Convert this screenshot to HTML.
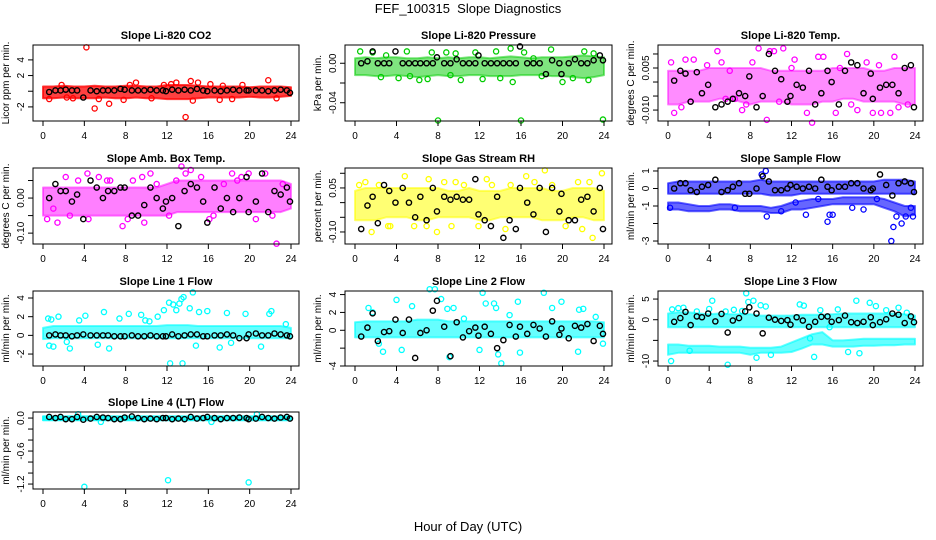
<!DOCTYPE html>
<html><head><meta charset="utf-8"><style>
html,body{margin:0;padding:0;background:#fff;}
svg{display:block;font-family:"Liberation Sans",sans-serif;}
</style></head><body>
<svg id="chart" width="936" height="540" viewBox="0 0 936 540" xmlns="http://www.w3.org/2000/svg">
<text x="468" y="13" text-anchor="middle" font-size="13" xml:space="preserve">FEF_100315  Slope Diagnostics</text>
<text x="468" y="531" text-anchor="middle" font-size="13">Hour of Day (UTC)</text>
</svg>
<script>
const xTicks = [0,4,8,12,16,20,24];
const bandHours = [0,1,2,3,4,5,6,7,8,9,10,11,12,13,14,15,16,17,18,19,20,21,22,23,24];
const blackHours = [0.6,1.2,1.7,2.2,2.8,3.3,3.9,4.6,5.2,5.8,6.3,6.9,7.5,7.9,8.6,9.2,9.8,10.4,11.0,11.6,11.9,12.5,13.1,13.7,14.3,14.9,15.5,15.9,16.6,17.2,17.8,18.4,19.0,19.7,19.9,20.6,21.2,21.8,22.4,23.0,23.6,23.9];

const co2Lo = [-0.9,-0.9,-0.8,-0.9,-0.9,-0.9,-0.8,-0.9,-0.9,-0.8,-0.9,-0.9,-1.0,-1.0,-1.0,-0.9,-0.8,-0.8,-0.8,-0.8,-0.7,-0.8,-0.8,-0.7,-0.6];
const co2Hi = [0.6,0.6,0.7,0.6,0.6,0.7,0.6,0.6,0.7,0.7,0.6,0.6,0.8,0.8,0.8,0.7,0.6,0.6,0.6,0.6,0.5,0.6,0.6,0.6,0.5];
const co2X = [4.2,13.8,5.0,6.4,0.6,2.9,9.0,12.9,14.3,14.5,15.0,17.4,18.3,21.8,1.8,17.1,7.8,5.4,11.7,12.4,22.6,19.3,2.3,8.4,10.5,16.2];
const co2Y = [5.6,-3.3,-2.2,-1.6,-1.0,-0.9,1.1,1.1,1.3,-1.2,1.1,0.7,-1.0,1.4,0.8,-1.1,-1.1,-1.0,0.8,0.9,-0.9,0.8,-0.8,0.8,-0.9,0.9];
const co2Black = [-0.1,0.1,0.1,0.2,0.1,0.1,-0.8,0.1,0.0,0.1,0.1,0.1,0.3,0.2,0.1,0.1,0.1,0.2,0.1,0.1,0.0,0.2,0.1,0.2,0.1,0.3,0.1,0.0,0.1,0.0,0.1,0.2,0.1,0.1,0.1,0.1,0.1,0.0,0.1,0.2,0.1,-0.2];

const prLo = [-0.012,-0.012,-0.013,-0.013,-0.012,-0.013,-0.014,-0.013,-0.012,-0.013,-0.013,-0.012,-0.012,-0.013,-0.013,-0.013,-0.012,-0.012,-0.012,-0.013,-0.013,-0.014,-0.015,-0.014,-0.012];
const prHi = [0.005,0.006,0.005,0.006,0.006,0.005,0.005,0.006,0.005,0.006,0.005,0.006,0.006,0.005,0.006,0.007,0.006,0.005,0.006,0.006,0.006,0.007,0.008,0.007,0.006];
const prX = [8.0,16.0,23.9,0.5,1.7,3.0,5.0,5.3,6.2,7.4,8.8,9.7,10.2,11.6,13.6,15.0,15.2,16.3,17.2,18.9,20.0,21.0,22.1,22.5,23.0,2.5,4.2,9.2,12.3,14.0,18.0,7.0];
const prY = [-0.058,-0.058,-0.057,0.012,0.011,0.008,0.012,-0.013,-0.017,0.011,0.011,0.010,-0.017,0.011,0.012,0.015,-0.019,0.011,0.005,0.014,-0.019,-0.015,0.012,-0.017,0.010,-0.014,-0.015,-0.012,-0.016,-0.015,-0.013,-0.016];
const prBlack = [0.0,0.002,0.012,0.0,0.0,0.0,0.012,0.0,0.0,0.0,0.0,0.0,0.0,0.006,0.0,0.0,0.004,0.0,0.0,0.0,0.008,0.0,0.0,0.0,0.0,0.0,0.0,0.017,0.0,0.0,0.0,-0.011,0.003,0.0,-0.011,0.0,0.004,0.0,0.0,0.003,0.008,0.003];

const tLo = [-0.008,-0.008,-0.007,-0.007,-0.007,-0.006,-0.006,-0.007,-0.008,-0.007,-0.007,-0.007,-0.008,-0.008,-0.008,-0.007,-0.007,-0.006,-0.006,-0.007,-0.007,-0.007,-0.007,-0.008,-0.008];
const tHi = [0.004,0.004,0.004,0.004,0.005,0.005,0.005,0.005,0.005,0.005,0.004,0.004,0.004,0.004,0.004,0.004,0.005,0.005,0.005,0.005,0.004,0.004,0.005,0.005,0.005];
const tX = [0.3,0.6,1.3,1.7,2.5,3.8,4.8,5.2,6.5,7.2,7.6,8.2,8.8,9.6,9.9,10.3,11.2,12.3,13.5,14.0,14.6,15.1,16.3,17.4,17.8,18.4,19.3,19.9,20.7,21.6,22.0,22.4,23.3,2.2,6.0,12.0,16.7,20.5,10.8,5.6];
const tY = [0.007,-0.011,-0.009,0.008,0.008,0.006,0.011,0.007,-0.006,-0.010,-0.008,0.007,0.012,-0.0135,0.011,0.011,0.012,0.008,-0.011,-0.0145,0.009,0.009,-0.011,0.010,-0.008,-0.010,0.007,-0.011,-0.011,-0.011,0.009,-0.009,-0.008,-0.007,0.004,0.005,0.005,0.006,-0.007,-0.006];
const tBlack = [0.0005,0.004,0.003,-0.007,0.0035,-0.004,-0.001,-0.009,-0.008,-0.007,-0.006,-0.004,-0.005,0.002,-0.009,-0.005,0.010,0.004,0.001,-0.007,-0.005,-0.001,-0.002,0.004,-0.008,-0.004,0.004,0.0,-0.008,0.004,0.007,0.006,-0.004,0.003,-0.006,-0.002,-0.001,-0.001,-0.004,0.005,0.006,-0.009];

const abLo = [-0.05,-0.05,-0.05,-0.05,-0.05,-0.05,-0.05,-0.05,-0.05,-0.05,-0.05,-0.05,-0.05,-0.04,-0.04,-0.04,-0.04,-0.04,-0.04,-0.04,-0.04,-0.04,-0.04,-0.04,-0.03];
const abHi = [0.03,0.03,0.03,0.03,0.03,0.03,0.03,0.03,0.03,0.03,0.03,0.03,0.04,0.05,0.05,0.05,0.05,0.05,0.05,0.05,0.05,0.05,0.05,0.05,0.04];
const abX = [0.4,1.0,1.4,2.2,3.4,4.3,5.4,6.2,7.7,8.2,8.7,9.6,10.4,11.0,12.2,12.9,13.4,13.8,14.3,15.3,16.1,16.5,17.5,18.3,19.2,19.9,20.6,21.5,22.2,22.6,23.2,4.4,9.8,18.8,2.6,6.5];
const abY = [-0.06,-0.03,-0.07,0.06,0.05,0.07,0.06,0.05,-0.08,-0.06,0.05,0.06,0.07,0.04,-0.05,0.05,0.09,0.07,0.08,0.06,-0.06,-0.05,0.04,0.07,0.06,0.07,-0.06,0.07,-0.05,-0.13,0.04,-0.06,-0.07,0.05,-0.05,0.05];
const abBlack = [0.0,0.04,0.02,0.02,-0.01,0.01,-0.06,0.05,0.03,0.0,0.02,0.02,0.03,0.03,-0.05,-0.05,-0.02,0.03,0.0,-0.03,-0.01,0.0,-0.08,0.02,0.04,0.03,-0.01,-0.07,0.03,-0.03,0.0,-0.04,0.0,0.06,-0.04,-0.01,0.07,-0.04,0.02,0.01,0.03,-0.01];

const rhLo = [-0.06,-0.06,-0.06,-0.05,-0.05,-0.05,-0.06,-0.06,-0.05,-0.05,-0.05,-0.05,-0.06,-0.06,-0.05,-0.05,-0.05,-0.05,-0.06,-0.06,-0.06,-0.05,-0.05,-0.06,-0.06];
const rhHi = [0.04,0.05,0.05,0.05,0.05,0.05,0.05,0.05,0.05,0.04,0.04,0.05,0.04,0.04,0.04,0.05,0.05,0.05,0.05,0.04,0.04,0.05,0.05,0.05,0.04];
const rhX = [0.4,1.0,1.6,2.3,3.4,4.8,5.7,7.1,7.9,8.6,9.7,10.5,11.9,12.7,13.2,14.5,15.0,16.5,17.3,18.3,19.0,20.3,21.5,21.9,22.6,22.9,23.8,3.2,6.9,9.3];
const rhY = [0.06,0.07,-0.10,0.06,-0.08,0.09,-0.08,0.08,-0.10,0.07,0.07,0.06,-0.08,0.08,0.06,-0.09,0.06,0.09,0.07,0.11,0.06,-0.08,0.07,-0.09,0.07,-0.12,0.10,-0.08,-0.08,-0.08];
const rhBlack = [-0.09,-0.01,0.02,-0.07,0.06,0.04,0.0,0.05,0.00,-0.05,0.02,-0.06,0.05,-0.03,0.02,0.01,0.02,0.01,0.01,0.08,-0.04,-0.06,-0.08,0.02,-0.12,-0.06,-0.09,0.05,0.00,-0.04,0.05,-0.10,0.05,-0.03,0.03,-0.06,-0.06,0.01,0.02,-0.03,0.05,-0.09];

const sfLoA = [-0.3,-0.3,-0.3,-0.3,-0.3,-0.3,-0.3,-0.3,-0.3,-0.3,-0.4,-0.4,-0.4,-0.3,-0.3,-0.3,-0.3,-0.3,-0.3,-0.3,-0.3,-0.3,-0.3,-0.3,-0.3];
const sfHiA = [0.3,0.4,0.4,0.4,0.4,0.4,0.4,0.4,0.4,0.5,0.4,0.4,0.4,0.4,0.4,0.4,0.4,0.4,0.4,0.4,0.4,0.5,0.5,0.5,0.4];
const sfLoB = [-1.2,-1.2,-1.3,-1.3,-1.3,-1.2,-1.2,-1.3,-1.3,-1.3,-1.4,-1.4,-1.2,-1.2,-1.1,-1.0,-0.9,-0.9,-0.9,-0.9,-0.9,-1.1,-1.3,-1.6,-1.5];
const sfHiB = [-0.8,-0.8,-0.9,-1.0,-1.0,-0.9,-0.9,-1.0,-1.0,-1.0,-1.1,-1.0,-0.8,-0.7,-0.6,-0.6,-0.6,-0.5,-0.5,-0.5,-0.5,-0.6,-0.8,-1.0,-1.0];
const sfX = [9.1,9.5,9.6,13.4,15.5,15.7,16.0,17.9,19.0,21.7,21.9,22.2,22.7,23.1,23.6,23.8,0.2,6.5,11.0,14.6,20.3,12.4];
const sfY = [0.8,1.0,-1.6,-1.5,-1.9,-1.5,-1.5,-1.1,-1.2,-3.0,-2.2,-1.6,-2.0,-1.6,-1.1,-1.6,-1.1,-1.1,-1.3,-0.6,-0.6,-0.8];
const sfBlack = [0.0,0.3,0.3,-0.1,-0.2,0.1,0.2,0.5,-0.2,-0.1,0.1,0.3,-0.3,-0.3,-0.0,0.7,0.4,-0.1,-0.1,0.0,0.2,0.1,0.0,0.1,0.0,0.5,0.1,-0.1,0.1,0.1,0.3,0.3,0.0,-0.1,0.0,0.8,0.2,-0.4,0.3,0.4,0.3,-0.2];

const l1Lo = [-0.4,-0.3,-0.3,-0.3,-0.3,-0.3,-0.3,-0.3,-0.3,-0.3,-0.3,-0.3,-0.3,-0.3,-0.3,-0.3,-0.3,-0.3,-0.3,-0.3,-0.3,-0.3,-0.3,-0.3,-0.3];
const l1Hi = [0.8,1.0,1.0,1.0,1.0,1.0,1.0,1.0,1.0,1.0,1.0,1.0,1.1,1.1,1.1,1.0,1.0,1.0,1.0,1.0,1.0,1.0,1.0,1.0,0.8];
const l1X = [0.5,0.6,1.0,1.5,2.6,3.5,4.1,5.9,6.4,7.4,8.3,9.5,10.3,11.1,11.7,12.2,12.3,12.6,12.9,13.2,13.4,13.5,13.6,14.2,14.5,14.8,15.1,15.9,17.8,18.2,19.6,21.1,21.9,22.1,23.5,0.8,2.3,5.3,9.9,17.1];
const l1Y = [1.8,-1.1,-1.2,2.0,-1.4,1.6,2.1,2.5,-1.4,1.8,2.3,2.2,1.5,2.0,2.7,3.5,-3.0,3.3,2.7,3.4,3.9,-3.0,4.1,2.9,4.6,-1.1,2.5,2.6,2.4,-0.8,2.3,-1.2,2.3,2.6,1.2,1.7,-0.7,-1.0,1.6,-1.3];
const l1Black = [0.0,0.1,0.0,0.0,-0.1,0.0,0.1,0.0,0.0,0.0,0.0,-0.1,-0.1,-0.1,0.0,-0.1,-0.1,0.0,-0.1,-0.1,-0.1,0.1,-0.1,0.0,0.1,0.1,-0.1,-0.1,0.0,0.0,0.1,0.0,-0.3,-0.3,0.1,0.2,0.0,0.0,0.2,0.1,0.0,-0.1];

const l2Lo = [-0.8,-0.8,-0.8,-0.8,-0.8,-0.8,-0.8,-0.8,-0.8,-0.8,-0.8,-0.8,-0.8,-0.8,-0.8,-0.8,-0.8,-0.8,-0.8,-0.8,-0.8,-0.8,-0.8,-0.8,-0.8];
const l2Hi = [0.9,1.0,1.0,1.0,1.0,1.0,1.2,1.2,1.2,1.0,1.0,1.0,1.0,1.0,1.0,1.0,1.0,1.0,1.0,1.0,1.0,1.0,1.0,1.0,0.9];
const l2X = [1.3,1.7,2.3,2.7,4.0,4.5,5.5,7.2,7.7,8.3,8.9,9.1,9.5,12.0,12.3,12.6,13.4,13.6,13.8,14.1,15.7,15.9,18.2,19.0,19.9,21.6,21.5,22.0,23.2,23.9,10.5,14.9];
const l2Y = [2.5,2.0,-1.5,-2.4,3.4,-2.2,2.7,4.6,4.6,3.5,2.4,-3.0,2.5,-2.2,4.2,3.0,3.0,2.5,-2.7,-3.7,3.2,-2.5,4.2,2.5,3.2,2.3,-2.4,2.4,1.5,-1.5,1.3,1.7];
const l2Black = [-0.7,0.3,1.9,-1.2,-0.2,-0.1,1.2,-0.3,1.2,-3.1,-0.3,0.0,2.2,3.3,0.4,-2.9,0.9,-0.8,-0.1,0.3,-0.6,0.4,-0.4,-2.0,-1.1,0.6,-0.7,0.4,-0.4,0.6,0.2,-0.7,1.0,-0.5,0.2,-0.9,0.5,0.3,0.7,-1.2,0.5,-0.4];

const l3LoA = [-1.8,-1.8,-1.8,-1.8,-1.8,-1.8,-1.8,-1.8,-1.8,-1.8,-1.8,-1.8,-1.8,-1.8,-1.8,-1.8,-1.8,-1.8,-1.8,-1.8,-1.8,-1.8,-1.8,-1.8,-1.8];
const l3HiA = [1.5,1.8,1.8,1.5,1.3,1.5,1.3,1.3,1.3,1.0,1.0,1.0,1.0,1.2,1.2,1.2,1.3,1.5,1.5,1.5,1.5,1.5,1.5,1.3,1.0];
const l3LoB = [-8.5,-8.0,-8.0,-8.0,-8.0,-8.0,-8.0,-8.0,-8.5,-8.0,-8.0,-8.0,-7.8,-7.0,-6.0,-6.0,-6.5,-6.5,-6.5,-6.3,-6.3,-6.2,-6.2,-6.0,-6.0];
const l3HiB = [-6.0,-6.0,-6.3,-6.3,-6.3,-6.5,-6.5,-6.5,-6.8,-6.8,-6.8,-6.5,-5.5,-4.5,-3.5,-3.0,-5.0,-5.0,-4.8,-4.6,-4.6,-4.6,-4.6,-4.6,-4.6];
const l3X = [0.3,1.0,1.5,2.8,4.0,4.3,5.6,5.8,6.4,7.2,7.6,7.8,8.3,8.6,9.0,9.5,12.8,13.2,14.2,14.8,15.7,16.5,17.5,18.3,18.6,19.6,20.2,21.2,22.4,23.2,0.4,2.1,10.0,13.8];
const l3Y = [-10.0,2.8,2.9,2.0,2.6,4.6,2.0,-10.9,2.4,2.1,6.4,4.3,4.6,-9.2,3.5,3.2,3.7,3.4,-9.0,2.3,-1.8,2.5,-7.8,4.6,-8.1,4.1,3.3,2.3,2.9,1.7,2.5,-7.5,-8.5,-4.5];
const l3Black = [-0.5,0.4,1.9,-1.3,0.8,0.6,1.5,-0.4,1.4,-3.1,-0.2,0.4,2.0,3.0,1.5,-3.3,0.5,0.0,-0.3,-0.1,-1.2,0.6,-0.2,-1.7,-0.5,0.7,0.8,-0.5,-0.1,1.0,-0.6,-0.8,-0.5,0.6,-1.3,-0.6,0.1,1.5,1.2,-0.8,0.8,-0.6];

const l4Lo = [-0.04,-0.04,-0.04,-0.04,-0.04,-0.04,-0.04,-0.04,-0.04,-0.04,-0.04,-0.04,-0.04,-0.04,-0.04,-0.04,-0.04,-0.04,-0.04,-0.04,-0.04,-0.04,-0.04,-0.04,-0.04];
const l4Hi = [0.03,0.03,0.03,0.03,0.03,0.03,0.03,0.03,0.03,0.03,0.03,0.03,0.03,0.03,0.03,0.03,0.03,0.03,0.03,0.03,0.03,0.03,0.03,0.03,0.03];
const l4X = [4.0,12.1,19.9,3.4,20.7,5.6,16.3];
const l4Y = [-1.25,-1.13,-1.17,0.07,0.07,-0.07,-0.07];
const l4Black = [0.02,0.0,0.02,-0.02,-0.02,0.02,-0.03,-0.01,0.02,0.01,0.0,-0.02,-0.02,0.01,0.03,0.0,-0.02,-0.01,-0.02,0.0,0.0,-0.02,-0.01,-0.02,0.02,-0.01,0.0,0.02,0.0,-0.02,0.0,0.0,0.01,0.0,-0.02,-0.01,0.02,0.0,-0.01,0.01,0.02,-0.01];

const panels = [
 {name:'co2',title:'Slope Li-820 CO2',yl:'Licor ppm per min.',col:'#ff0000',op:0.75,L:33,R:299,T:45,B:121,ymin:-3.8,ymax:5.9,ticks:[-2,0,2,4],labels:['-2','','2','4'],bands:[[co2Lo,co2Hi]],sx:co2X,sy:co2Y,bk:co2Black},
 {name:'pressure',title:'Slope Li-820 Pressure',yl:'kPa per min.',col:'#00cc00',op:0.5,L:345,R:612,T:45,B:121,ymin:-0.0585,ymax:0.0185,ticks:[0,-0.02,-0.04],labels:['0.00','','-0.04'],bands:[[prLo,prHi]],sx:prX,sy:prY,bk:prBlack},
 {name:'li820-temp',title:'Slope Li-820 Temp.',yl:'degrees C per min.',col:'#ff00ff',op:0.45,L:658,R:923,T:45,B:121,ymin:-0.0139,ymax:0.0132,ticks:[0.01,0.005,0,-0.005,-0.01],labels:['','0.005','','','-0.010'],bands:[[tLo,tHi]],sx:tX,sy:tY,bk:tBlack},
 {name:'amb-box-temp',title:'Slope Amb. Box Temp.',yl:'degrees C per min.',col:'#ff00ff',op:0.5,L:33,R:299,T:168,B:244,ymin:-0.131,ymax:0.0857,ticks:[0.05,0,-0.05,-0.1],labels:['','0.00','','-0.10'],bands:[[abLo,abHi]],sx:abX,sy:abY,bk:abBlack},
 {name:'gas-stream-rh',title:'Slope Gas Stream RH',yl:'percent per min.',col:'#ffff00',op:0.55,L:345,R:612,T:168,B:244,ymin:-0.141,ymax:0.118,ticks:[0.1,0.05,0,-0.05,-0.1],labels:['','0.05','','','-0.10'],bands:[[rhLo,rhHi]],sx:rhX,sy:rhY,bk:rhBlack},
 {name:'sample-flow',title:'Slope Sample Flow',yl:'ml/min per min.',col:'#0000ff',op:0.6,L:658,R:923,T:168,B:244,ymin:-3.17,ymax:1.17,ticks:[1,0,-1,-2,-3],labels:['1','0','-1','','-3'],bands:[[sfLoA,sfHiA],[sfLoB,sfHiB]],sx:sfX,sy:sfY,bk:sfBlack},
 {name:'line1-flow',title:'Slope Line 1 Flow',yl:'ml/min per min.',col:'#00ffff',op:0.6,L:33,R:299,T:291,B:366,ymin:-3.28,ymax:4.75,ticks:[4,2,0,-2],labels:['4','2','0','-2'],bands:[[l1Lo,l1Hi]],sx:l1X,sy:l1Y,bk:l1Black},
 {name:'line2-flow',title:'Slope Line 2 Flow',yl:'ml/min per min.',col:'#00ffff',op:0.6,L:345,R:612,T:291,B:366,ymin:-4.0,ymax:4.4,ticks:[4,2,0,-2,-4],labels:['4','2','0','','-4'],bands:[[l2Lo,l2Hi]],sx:l2X,sy:l2Y,bk:l2Black},
 {name:'line3-flow',title:'Slope Line 3 Flow',yl:'ml/min per min.',col:'#00ffff',op:0.6,L:658,R:923,T:291,B:366,ymin:-11.2,ymax:6.95,ticks:[5,0,-5,-10],labels:['5','0','','-10'],bands:[[l3LoA,l3HiA],[l3LoB,l3HiB]],sx:l3X,sy:l3Y,bk:l3Black},
 {name:'line4-flow',title:'Slope Line 4 (LT) Flow',yl:'ml/min per min.',col:'#00ffff',op:0.85,L:33,R:299,T:412,B:489,ymin:-1.29,ymax:0.11,ticks:[0,-0.2,-0.4,-0.6,-0.8,-1.0,-1.2],labels:['0.0','','','-0.6','','','-1.2'],bands:[[l4Lo,l4Hi]],sx:l4X,sy:l4Y,bk:l4Black}
];

const NS='http://www.w3.org/2000/svg';
const svg=document.getElementById('chart');
function mk(tag,attrs,parent){const e=document.createElementNS(NS,tag);for(const k in attrs)e.setAttribute(k,attrs[k]);(parent||svg).appendChild(e);return e;}

panels.forEach(p=>{
  const g=mk('g',{});
  
  
  const xs=h=>p.L+10+h*(p.R-p.L-18)/24;
  const ys=v=>p.B-(v-p.ymin)*(p.B-p.T)/(p.ymax-p.ymin);
  const t=mk('text',{x:(p.L+p.R)/2,y:p.T-6,'text-anchor':'middle','font-size':11,'font-weight':'bold'},g);
  t.textContent=p.title;
  
  
  p.bands.forEach((b,bi)=>{
    let d='';
    bandHours.forEach((h,i)=>{d+=(i?'L':'M')+xs(h).toFixed(1)+','+ys(b[1][i]).toFixed(1);});
    for(let i=bandHours.length-1;i>=0;i--)d+='L'+xs(bandHours[i]).toFixed(1)+','+ys(b[0][i]).toFixed(1);
    const pa=mk('path',{d:d+'Z',fill:p.col,'fill-opacity':p.op,stroke:p.col,'stroke-opacity':p.op,'stroke-width':2,'stroke-linejoin':'round'},g);
    
    
  });
  p.sx.forEach((h,i)=>{
    const c=mk('circle',{cx:xs(h),cy:ys(p.sy[i]),r:2.6,fill:'none',stroke:p.col,'stroke-width':1.3},g);
    
    
  });
  blackHours.forEach((h,i)=>{
    const c=mk('circle',{cx:xs(h),cy:ys(p.bk[i]),r:2.6,fill:'none',stroke:'#000','stroke-width':1.4},g);
    
    
  });
  const box=mk('rect',{x:p.L,y:p.T,width:p.R-p.L,height:p.B-p.T,fill:'none',stroke:'#000','stroke-width':1},g);
  
  
  xTicks.forEach(h=>{
    mk('line',{x1:xs(h),x2:xs(h),y1:p.B,y2:p.B+5,stroke:'#000'},g);
    const tl=mk('text',{x:xs(h),y:p.B+18,'text-anchor':'middle','font-size':10},g);
    tl.textContent=h;
    
    
  });
  p.ticks.forEach((v,i)=>{
    mk('line',{x1:p.L-5,x2:p.L,y1:ys(v),y2:ys(v),stroke:'#000'},g);
    if(p.labels[i]){
      const tl=mk('text',{x:0,y:0,'text-anchor':'middle','font-size':10,transform:`translate(${p.L-9},${ys(v)}) rotate(-90)`},g);
      tl.textContent=p.labels[i];
      
      
    }
  });
  const yl=mk('text',{x:0,y:0,'text-anchor':'middle','font-size':10,transform:`translate(${p.L-24},${(p.T+p.B)/2}) rotate(-90)`},g);
  yl.textContent=p.yl;
  
  
});
</script>
</body></html>
